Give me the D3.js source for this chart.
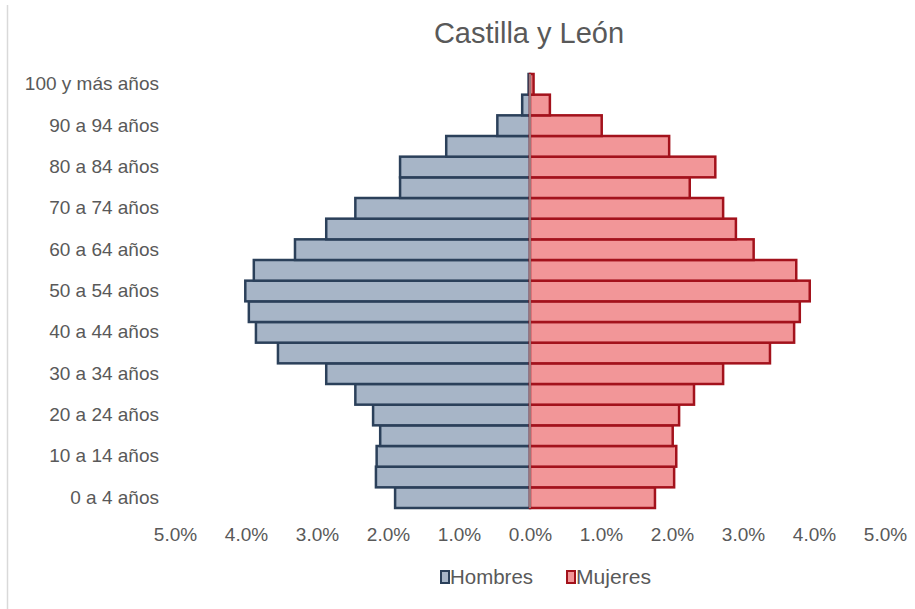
<!DOCTYPE html>
<html>
<head>
<meta charset="utf-8">
<script src="https://cdn.jsdelivr.net/npm/d3@7"></script>
<style>
  html, body { margin: 0; padding: 0; background: #ffffff; }
  svg { display: block; font-family: "Liberation Sans", Arial, sans-serif; }
</style>
</head>
<body>
<svg id="chart" width="915" height="609"></svg>
<script>
// Age groups, youngest first
const ageGroups = [
  "0 a 4 años", "5 a 9 años", "10 a 14 años", "15 a 19 años", "20 a 24 años",
  "25 a 29 años", "30 a 34 años", "35 a 39 años", "40 a 44 años", "45 a 49 años",
  "50 a 54 años", "55 a 59 años", "60 a 64 años", "65 a 69 años", "70 a 74 años",
  "75 a 79 años", "80 a 84 años", "85 a 89 años", "90 a 94 años", "95 a 99 años",
  "100 y más años"
];

// Share of total population (%) per age group
const hombres = [
  1.90, 2.17, 2.16, 2.11, 2.21,
  2.46, 2.87, 3.55, 3.86, 3.96,
  4.01, 3.89, 3.31, 2.87, 2.46,
  1.83, 1.83, 1.18, 0.46, 0.11,
  0.02
];
const mujeres = [
  1.76, 2.03, 2.06, 2.01, 2.10,
  2.31, 2.72, 3.38, 3.72, 3.80,
  3.94, 3.75, 3.15, 2.90, 2.72,
  2.25, 2.61, 1.96, 1.01, 0.28,
  0.05
];

// Axis ticks and the labelled age groups
const xTicks = [-5, -4, -3, -2, -1, 0, 1, 2, 3, 4, 5];
const labelledGroups = ageGroups.filter((d, i) => i % 2 === 0);

const title = "Castilla y León";
const seriesNames = ["Hombres", "Mujeres"];

const svg = d3.select("#chart");
const textColor = "#595959";
const fontSize = 19;

const colors = {
  Hombres: { fill: "#a7b5c7", stroke: "#2b405a" },
  Mujeres: { fill: "#f29698", stroke: "#a3121c" }
};

// Scales
const x = d3.scaleLinear().domain([-5, 5]).range([175, 885]);
const y = d3.scaleBand()
  .domain(ageGroups.slice().reverse())
  .range([74, 508])
  .padding(0);

// Chart frame line on the left
svg.append("line")
  .attr("x1", 7.5).attr("x2", 7.5)
  .attr("y1", 5).attr("y2", 609)
  .attr("stroke", "#d9d9d9").attr("stroke-width", 1.5);

// Title
svg.append("text")
  .attr("x", 529).attr("y", 43)
  .attr("text-anchor", "middle")
  .attr("fill", textColor)
  .attr("font-size", 29)
  .text(title);

// Bars
const rows = ageGroups.map((g, i) => ({ group: g, h: hombres[i], m: mujeres[i] }));

svg.append("g").selectAll("rect")
  .data(rows)
  .join("rect")
  .attr("x", d => x(-d.h))
  .attr("width", d => x(0) - x(-d.h))
  .attr("y", d => y(d.group))
  .attr("height", y.bandwidth())
  .attr("fill", colors.Hombres.fill)
  .attr("stroke", colors.Hombres.stroke)
  .attr("stroke-width", 2.5);

svg.append("g").selectAll("rect")
  .data(rows)
  .join("rect")
  .attr("x", x(0))
  .attr("width", d => x(d.m) - x(0))
  .attr("y", d => y(d.group))
  .attr("height", y.bandwidth())
  .attr("fill", colors.Mujeres.fill)
  .attr("stroke", colors.Mujeres.stroke)
  .attr("stroke-width", 2.5);

// Vertical axis line at zero
svg.append("line")
  .attr("x1", x(0)).attr("x2", x(0))
  .attr("y1", y.range()[0]).attr("y2", y.range()[1])
  .attr("stroke", "#9a9a9a").attr("stroke-width", 1.5);

// Age labels
const yAxis = d3.axisLeft(y)
  .tickValues(labelledGroups)
  .tickSize(0)
  .tickPadding(0);
const yg = svg.append("g")
  .attr("transform", "translate(159,0)")
  .call(yAxis);
yg.select(".domain").remove();
yg.selectAll("text")
  .attr("fill", textColor)
  .attr("font-size", fontSize)
  .attr("font-family", "Liberation Sans, Arial, sans-serif");

// Percentage axis
const xAxis = d3.axisBottom(x)
  .tickValues(xTicks)
  .tickSize(0)
  .tickPadding(0)
  .tickFormat(v => Math.abs(v).toFixed(1) + "%");
const xg = svg.append("g")
  .attr("transform", "translate(0,527)")
  .call(xAxis);
xg.select(".domain").remove();
xg.selectAll("text")
  .attr("fill", textColor)
  .attr("font-size", fontSize)
  .attr("font-family", "Liberation Sans, Arial, sans-serif");

// Legend
const legendX = [440, 566];
const legend = svg.append("g").selectAll("g")
  .data(seriesNames)
  .join("g")
  .attr("transform", (d, i) => `translate(${legendX[i]},577)`);
legend.append("rect")
  .attr("x", 1).attr("y", -6)
  .attr("width", 8).attr("height", 12)
  .attr("fill", d => colors[d].fill)
  .attr("stroke", d => colors[d].stroke)
  .attr("stroke-width", 2);
legend.append("text")
  .attr("x", 10).attr("y", 0)
  .attr("dy", "0.35em")
  .attr("fill", textColor)
  .attr("font-size", 20.5)
  .attr("textLength", d => d === "Hombres" ? 83 : 75)
  .attr("lengthAdjust", "spacingAndGlyphs")
  .text(d => d);
</script>
</body>
</html>
